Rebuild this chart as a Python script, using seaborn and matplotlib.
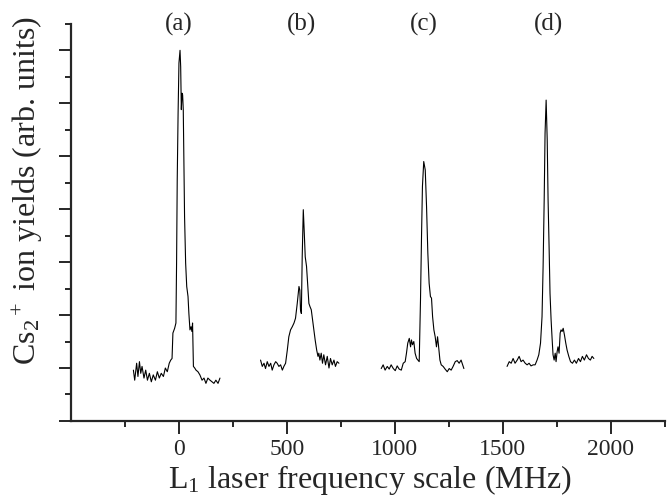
import numpy as np
import pandas as pd
import seaborn as sns
import matplotlib.pyplot as plt
from matplotlib.ticker import MultipleLocator, FixedLocator, NullFormatter

# spectra: laser frequency (MHz) and ion yield (arb. units)
freq_a = [-211, -205, -196, -190, -183, -177, -171, -162, -154, -146, -137, -128, -119, -109,
          -100, -91, -82, -72, -63, -54, -45, -38, -32, -28, -20, -14, -11, -8, -4, 0, 5, 8,
          11, 14, 17, 20, 23, 26, 31, 36, 42, 46, 51, 56, 60, 63, 67, 73, 79, 88, 97, 107,
          116, 125, 134, 144, 153, 162, 171, 181, 190]
yield_a = [0.96, 0.77, 1.09, 0.84, 1.12, 0.90, 1.03, 0.81, 0.96, 0.77, 0.90, 0.74, 0.87, 0.77,
           0.93, 0.81, 0.90, 0.84, 1.00, 0.93, 1.09, 1.15, 1.18, 1.66, 1.75, 1.85, 2.98, 4.55,
           5.81, 6.76, 7.00, 6.69, 5.88, 6.19, 6.16, 5.88, 4.87, 3.86, 2.98, 2.54, 2.35, 2.03,
           1.72, 1.78, 1.69, 1.85, 1.03, 1.00, 0.96, 0.93, 0.87, 0.77, 0.81, 0.71, 0.81, 0.77,
           0.74, 0.71, 0.77, 0.71, 0.81]

freq_b = [378, 386, 394, 401, 409, 417, 425, 432, 440, 448, 455, 463, 471, 479, 486, 494, 502,
          509, 517, 525, 533, 540, 548, 556, 560, 563, 567, 571, 576, 580, 585, 591, 597, 602,
          607, 613, 619, 625, 631, 638, 644, 648, 653, 659, 665, 671, 679, 687, 695, 702, 710,
          718, 725, 733, 741]
yield_b = [1.15, 1.03, 1.09, 0.99, 1.12, 1.03, 1.09, 0.96, 1.06, 1.12, 1.09, 1.03, 1.06, 0.96,
           1.03, 1.09, 1.34, 1.59, 1.72, 1.78, 1.85, 1.94, 2.22, 2.54, 2.47, 2.10, 2.03, 3.10,
           3.99, 3.61, 3.10, 2.92, 2.54, 2.22, 2.16, 2.10, 1.91, 1.72, 1.53, 1.34, 1.22, 1.28,
           1.15, 1.28, 1.09, 1.25, 1.06, 1.22, 1.00, 1.18, 1.06, 1.15, 1.03, 1.12, 1.09]

freq_c = [937, 946, 955, 965, 974, 983, 993, 1002, 1011, 1020, 1030, 1039, 1048, 1054, 1060,
          1067, 1073, 1077, 1082, 1088, 1094, 1101, 1107, 1113, 1119, 1124, 1128, 1134, 1141,
          1147, 1153, 1159, 1165, 1170, 1175, 1181, 1187, 1193, 1198, 1202, 1209, 1215, 1224,
          1233, 1243, 1252, 1261, 1270, 1280, 1289, 1298, 1307, 1320]
yield_c = [0.99, 1.06, 0.96, 1.03, 0.98, 1.06, 0.99, 0.95, 1.04, 0.98, 0.96, 1.09, 1.12, 1.28,
           1.47, 1.56, 1.40, 1.53, 1.44, 1.50, 1.28, 1.18, 1.15, 1.12, 2.29, 3.55, 4.43, 4.90,
           4.74, 4.05, 3.17, 2.60, 2.35, 2.32, 1.97, 1.72, 1.59, 1.40, 1.59, 1.44, 1.15, 1.06,
           1.03, 0.98, 0.93, 0.99, 0.96, 1.03, 1.12, 1.14, 1.09, 1.15, 0.99]

freq_d = [1520, 1530, 1539, 1548, 1557, 1567, 1576, 1585, 1594, 1604, 1613, 1622, 1631, 1641,
          1650, 1659, 1667, 1675, 1682, 1687, 1692, 1696, 1701, 1706, 1710, 1715, 1719, 1724,
          1729, 1733, 1738, 1743, 1747, 1752, 1756, 1761, 1766, 1770, 1775, 1780, 1786, 1792,
          1798, 1806, 1814, 1823, 1832, 1841, 1851, 1860, 1869, 1878, 1888, 1897, 1906, 1914,
          1922]
yield_d = [1.03, 1.12, 1.09, 1.18, 1.09, 1.15, 1.22, 1.12, 1.15, 1.09, 1.06, 1.09, 1.04, 1.06,
           1.06, 1.15, 1.25, 1.47, 1.97, 2.92, 4.18, 5.43, 6.06, 5.31, 4.18, 3.23, 2.41, 1.91,
           1.53, 1.25, 1.15, 1.28, 1.12, 1.31, 1.40, 1.28, 1.66, 1.72, 1.69, 1.75, 1.62, 1.47,
           1.34, 1.22, 1.12, 1.09, 1.15, 1.09, 1.18, 1.12, 1.22, 1.15, 1.25, 1.18, 1.15, 1.22,
           1.18]

panel_labels = ["(a)", "(b)", "(c)", "(d)"]
label_pos = [0, 570, 1133, 1712]
x_major = [0, 500, 1000, 1500, 2000]
x_minor = [-250, 250, 750, 1250, 1750, 2250]


def main():
    sns.set_style("ticks")
    plt.rcParams["font.family"] = ["Liberation Serif", "DejaVu Serif"]
    plt.rcParams["mathtext.fontset"] = "custom"
    plt.rcParams["mathtext.rm"] = "Liberation Serif"
    plt.rcParams["mathtext.it"] = "Liberation Serif"

    data = pd.concat([
        pd.DataFrame({"freq": f, "yield": y, "spectrum": name})
        for f, y, name in zip([freq_a, freq_b, freq_c, freq_d],
                              [yield_a, yield_b, yield_c, yield_d],
                              panel_labels)
    ])

    fig = plt.figure(figsize=(6.7, 4.97), dpi=100)
    ax = fig.add_axes([0.106, 0.153, 0.886, 0.799])

    sns.lineplot(data, x="freq", y="yield", units="spectrum", estimator=None,
                 color="black", linewidth=0.8, sort=False, ax=ax)

    ax.set_xlim(-500, 2250)
    ax.set_ylim(0, 7.5)
    ax.xaxis.set_major_locator(FixedLocator(x_major))
    ax.xaxis.set_minor_locator(FixedLocator(x_minor))
    ax.yaxis.set_major_locator(MultipleLocator(1))
    ax.yaxis.set_minor_locator(MultipleLocator(0.5))
    ax.yaxis.set_major_formatter(NullFormatter())
    ax.tick_params(which="major", length=9, width=1.4, direction="out", labelsize=17, pad=4)
    ax.tick_params(which="minor", length=4.5, width=1.4, direction="out")
    sns.despine(ax=ax)
    for side in ["left", "bottom"]:
        ax.spines[side].set_linewidth(1.6)

    for lbl, xpos in zip(panel_labels, label_pos):
        ax.text(xpos, 7.48, lbl, ha="center", va="center", fontsize=18, clip_on=False)

    ax.set_xlabel("L$_1$ laser frequency scale (MHz)", fontsize=23)
    ax.set_ylabel("Cs$_2$$^+$ ion yields (arb. units)", fontsize=23)
    ax.xaxis.set_label_coords(0.503, -0.106)
    ax.yaxis.set_label_coords(-0.044, 0.58)

    fig.savefig("out.png", dpi=100)


if __name__ == "__main__":
    main()
